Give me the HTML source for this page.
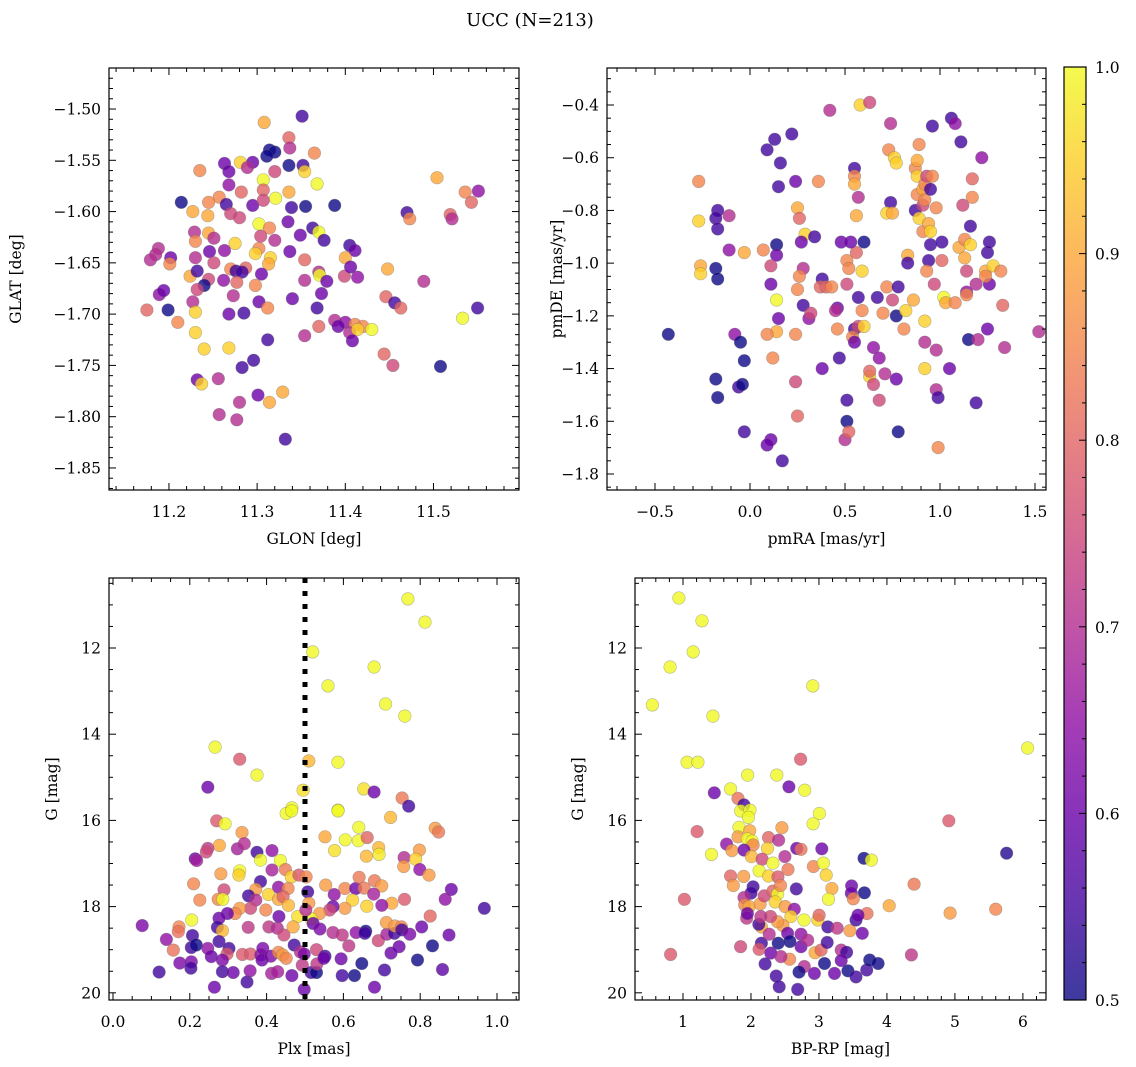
<!DOCTYPE html>
<html><head><meta charset="utf-8"><style>
body{margin:0;background:#fff}
svg{display:block}
text{font-family:"DejaVu Serif","Liberation Serif",serif;fill:#000}
</style></head><body>
<svg id="fig" width="1136" height="1067" xmlns="http://www.w3.org/2000/svg">
<defs>
<linearGradient id="plasma" x1="0" y1="1" x2="0" y2="0">
<stop offset="0" stop-color="#0d0887"/><stop offset="0.1" stop-color="#41049d"/><stop offset="0.2" stop-color="#6a00a8"/><stop offset="0.3" stop-color="#8f0da4"/><stop offset="0.4" stop-color="#b12a90"/><stop offset="0.5" stop-color="#cc4778"/><stop offset="0.6" stop-color="#e16462"/><stop offset="0.7" stop-color="#f2844b"/><stop offset="0.8" stop-color="#fca636"/><stop offset="0.9" stop-color="#fcce25"/><stop offset="1" stop-color="#f0f921"/>
</linearGradient>
</defs>
<text x="530" y="26" font-size="18" text-anchor="middle">UCC (N=213)</text>
</svg>
<script>
// Panel 1: GLON vs GLAT
const glon=[11.351,11.308,11.336,11.337,11.314,11.320,11.311,11.295,11.281,11.263,11.336,11.352,11.365,11.235,11.268,11.289,11.320,11.354,11.336,11.368,11.307,11.307,11.268,11.282,11.257,11.245,11.214,11.265,11.295,11.307,11.321,11.339,11.355,11.388,11.227,11.244,11.270,11.280,11.302,11.314,11.335,11.363,11.370,11.229,11.245,11.230,11.251,11.275,11.304,11.320,11.349,11.376,11.405,11.411,11.188,11.263,11.302,11.337,11.185,11.202,11.230,11.246,11.298,11.315,11.354,11.400,11.179,11.201,11.251,11.313,11.270,11.287,11.370,11.448,11.224,11.232,11.276,11.283,11.305,11.371,11.399,11.414,11.245,11.262,11.277,11.240,11.298,11.354,11.379,11.489,11.189,11.194,11.232,11.273,11.373,11.446,11.340,11.227,11.302,11.456,11.175,11.199,11.230,11.268,11.285,11.312,11.368,11.463,11.550,11.388,11.370,11.400,11.411,11.420,11.430,11.405,11.414,11.392,11.533,11.210,11.230,11.408,11.354,11.312,11.240,11.268,11.444,11.454,11.508,11.296,11.232,11.256,11.237,11.283,11.301,11.329,11.280,11.314,11.257,11.277,11.332,11.504,11.536,11.551,11.543,11.519,11.521,11.470,11.473,11.406];
const glat=[-1.507,-1.513,-1.528,-1.538,-1.540,-1.542,-1.546,-1.552,-1.552,-1.553,-1.555,-1.555,-1.543,-1.560,-1.561,-1.557,-1.561,-1.561,-1.581,-1.573,-1.569,-1.579,-1.574,-1.581,-1.586,-1.591,-1.591,-1.593,-1.594,-1.589,-1.587,-1.596,-1.595,-1.594,-1.600,-1.604,-1.602,-1.606,-1.612,-1.616,-1.610,-1.616,-1.620,-1.620,-1.621,-1.629,-1.626,-1.631,-1.624,-1.628,-1.623,-1.628,-1.633,-1.638,-1.636,-1.638,-1.636,-1.639,-1.642,-1.645,-1.645,-1.639,-1.641,-1.645,-1.647,-1.645,-1.647,-1.651,-1.650,-1.651,-1.656,-1.655,-1.659,-1.656,-1.663,-1.658,-1.658,-1.659,-1.661,-1.662,-1.663,-1.664,-1.666,-1.667,-1.669,-1.672,-1.672,-1.667,-1.668,-1.668,-1.681,-1.677,-1.676,-1.682,-1.680,-1.683,-1.685,-1.688,-1.688,-1.689,-1.696,-1.696,-1.698,-1.700,-1.699,-1.694,-1.694,-1.694,-1.694,-1.706,-1.712,-1.708,-1.710,-1.712,-1.715,-1.718,-1.715,-1.712,-1.704,-1.708,-1.718,-1.726,-1.721,-1.725,-1.734,-1.733,-1.739,-1.750,-1.751,-1.745,-1.764,-1.763,-1.768,-1.752,-1.779,-1.776,-1.786,-1.786,-1.798,-1.803,-1.822,-1.567,-1.581,-1.580,-1.591,-1.603,-1.607,-1.601,-1.607,-1.654];
const c1=[0.55,0.9,0.8,0.7,0.5,0.5,0.5,0.6,0.95,0.6,0.5,0.55,0.85,0.85,0.6,0.7,0.75,0.95,0.9,1.0,1.0,0.8,0.65,0.8,0.85,0.85,0.5,0.55,0.6,0.75,1.0,0.55,0.5,0.5,0.9,0.9,0.75,0.75,1.0,0.85,0.6,0.55,1.0,0.7,0.9,0.85,0.7,0.95,0.75,0.7,0.6,0.55,0.55,0.6,0.7,0.65,0.85,0.6,0.7,0.6,0.7,0.6,0.95,0.95,0.8,0.9,0.7,0.85,0.75,0.9,0.85,0.8,0.7,0.9,0.9,0.55,0.55,0.55,0.6,1.0,0.75,0.65,0.75,0.65,0.8,0.5,0.85,0.7,0.6,0.7,0.65,0.6,0.75,0.7,0.6,0.8,0.6,0.7,0.6,0.55,0.8,0.5,0.95,0.6,0.55,0.85,0.55,0.8,0.55,0.7,0.8,0.65,0.85,0.85,1.0,0.7,0.95,0.6,1.0,0.85,0.95,0.6,0.7,0.55,0.95,0.95,0.8,0.75,0.5,0.55,0.6,0.7,0.95,0.55,0.6,0.9,0.7,0.9,0.7,0.7,0.55,0.9,0.85,0.65,0.8,0.8,0.7,0.55,0.85,0.6];
// Panel 2: pmRA vs pmDE
const pmra=[-0.43,-0.17,-0.18,-0.17,-0.18,-0.17,-0.18,-0.17,-0.27,-0.26,-0.26,-0.27,-0.03,-0.03,-0.03,-0.11,-0.11,-0.08,-0.05,-0.06,-0.04,0.07,0.09,0.13,0.16,0.15,0.14,0.14,0.14,0.15,0.11,0.11,0.14,0.09,0.12,0.11,0.09,0.17,0.22,0.24,0.25,0.26,0.29,0.27,0.28,0.26,0.25,0.28,0.24,0.24,0.25,0.31,0.32,0.34,0.36,0.38,0.38,0.42,0.37,0.40,0.43,0.46,0.48,0.45,0.46,0.47,0.51,0.50,0.51,0.52,0.51,0.51,0.52,0.55,0.55,0.55,0.56,0.56,0.59,0.57,0.53,0.55,0.54,0.55,0.57,0.57,0.60,0.58,0.63,0.59,0.60,0.63,0.63,0.67,0.65,0.68,0.68,0.65,0.70,0.72,0.71,0.74,0.73,0.76,0.77,0.74,0.72,0.75,0.75,0.77,0.78,0.77,0.78,0.81,0.82,0.83,0.83,0.86,0.87,0.87,0.88,0.89,0.88,0.88,0.89,0.91,0.91,0.91,0.92,0.92,0.93,0.94,0.95,0.95,0.94,0.93,0.92,0.92,0.92,0.95,0.96,0.96,0.97,0.98,0.98,0.98,1.01,1.01,0.99,0.99,1.02,1.03,1.06,1.05,1.08,1.08,1.10,1.11,1.12,1.13,1.13,1.14,1.15,1.14,1.14,1.16,1.17,1.17,1.16,1.22,1.19,1.20,1.25,1.26,1.24,1.26,1.24,1.25,1.19,1.28,1.33,1.34,1.52,1.32];
const pmde=[-1.27,-0.80,-0.83,-0.87,-1.02,-1.06,-1.44,-1.51,-0.84,-1.01,-1.04,-0.69,-1.64,-1.37,-0.96,-0.82,-0.95,-1.27,-1.30,-1.47,-1.46,-0.95,-0.57,-0.53,-0.62,-0.71,-0.93,-0.97,-1.14,-1.21,-1.08,-1.01,-1.26,-1.27,-1.36,-1.67,-1.69,-1.75,-0.51,-0.69,-0.79,-0.83,-0.89,-0.92,-1.02,-1.05,-1.10,-1.16,-1.27,-1.45,-1.58,-1.21,-1.19,-0.90,-0.69,-1.06,-1.40,-0.42,-1.09,-1.09,-1.09,-1.17,-0.92,-1.18,-1.25,-1.36,-1.52,-1.67,-0.99,-1.02,-1.08,-1.60,-1.64,-0.64,-0.67,-0.70,-0.82,-0.96,-1.03,-0.75,-0.92,-1.25,-1.28,-1.30,-1.13,-1.24,-0.92,-0.40,-0.39,-1.18,-1.24,-1.43,-1.41,-1.13,-1.32,-1.36,-1.52,-1.46,-1.19,-1.09,-1.42,-0.47,-0.57,-0.60,-0.62,-0.77,-0.81,-0.81,-1.14,-1.20,-1.09,-1.44,-1.64,-1.25,-1.18,-0.97,-1.00,-1.14,-0.80,-0.64,-0.61,-0.55,-0.67,-0.74,-0.83,-0.78,-0.72,-0.88,-0.76,-0.70,-0.67,-0.85,-0.88,-0.93,-0.99,-1.03,-1.22,-1.30,-1.40,-0.72,-0.48,-0.67,-1.08,-1.33,-1.48,-0.79,-0.92,-0.99,-1.70,-1.51,-1.13,-1.15,-0.45,-1.40,-1.15,-0.47,-0.94,-0.54,-0.78,-0.91,-0.98,-1.03,-1.29,-1.11,-1.12,-0.86,-0.68,-0.75,-0.93,-0.60,-1.08,-1.29,-0.96,-0.92,-1.03,-1.08,-1.05,-1.25,-1.53,-1.01,-1.16,-1.32,-1.26,-1.03];
const c2=[0.5,0.55,0.55,0.55,0.5,0.5,0.5,0.5,0.95,0.9,0.95,0.85,0.55,0.5,0.9,0.7,0.65,0.65,0.5,0.55,0.5,0.85,0.55,0.55,0.55,0.55,0.5,0.6,1.0,0.6,0.6,0.75,0.9,0.85,0.85,0.6,0.6,0.55,0.55,0.6,0.9,0.8,0.95,0.6,0.7,0.85,0.85,0.55,0.85,0.75,0.8,0.65,0.75,0.55,0.85,0.55,0.6,0.7,0.8,0.8,0.85,0.6,0.6,0.7,0.85,0.55,0.55,0.7,0.85,0.85,0.75,0.5,0.8,0.55,0.85,0.9,0.9,0.8,0.95,0.7,0.6,0.55,0.85,0.6,0.55,0.75,0.5,0.95,0.75,0.85,0.95,0.95,0.8,0.55,0.65,0.65,0.75,0.75,0.85,0.85,0.7,0.7,0.85,0.95,0.95,0.55,0.95,0.9,0.75,0.5,0.55,0.6,0.5,0.85,0.95,0.9,0.55,0.9,0.55,0.85,0.9,0.85,0.95,0.85,0.95,0.75,0.9,0.85,0.85,0.85,0.75,0.9,0.95,0.55,0.55,0.85,0.95,0.7,0.95,0.55,0.55,0.85,0.75,0.7,0.7,0.85,0.55,0.8,0.85,0.55,1.0,0.9,0.55,0.6,0.85,0.65,0.9,0.55,0.75,0.85,0.9,0.75,0.5,0.65,0.85,0.55,0.8,0.85,0.95,0.65,0.7,0.7,0.55,0.55,0.9,0.6,0.85,0.6,0.55,0.95,0.8,0.7,0.7,0.85];
// Panel 3: Plx vs G
const plx=[0.768,0.8125,0.52,0.68,0.56,0.71,0.76,0.266,0.33,0.51,0.586,0.375,0.247,0.495,0.653,0.68,0.753,0.77,0.466,0.586,0.451,0.465,0.586,0.723,0.270,0.292,0.336,0.552,0.605,0.639,0.640,0.662,0.692,0.693,0.577,0.660,0.798,0.839,0.848,0.277,0.324,0.342,0.247,0.243,0.214,0.218,0.375,0.414,0.384,0.436,0.330,0.328,0.281,0.414,0.449,0.464,0.484,0.503,0.210,0.384,0.431,0.456,0.372,0.289,0.226,0.274,0.286,0.353,0.372,0.405,0.431,0.443,0.457,0.507,0.510,0.554,0.576,0.604,0.632,0.641,0.654,0.681,0.700,0.679,0.758,0.757,0.788,0.799,0.823,0.881,0.865,0.967,0.759,0.726,0.700,0.661,0.624,0.604,0.573,0.564,0.538,0.516,0.481,0.521,0.502,0.432,0.398,0.358,0.330,0.318,0.298,0.276,0.272,0.285,0.205,0.172,0.170,0.076,0.139,0.157,0.207,0.204,0.217,0.174,0.204,0.203,0.120,0.247,0.256,0.276,0.302,0.297,0.285,0.285,0.313,0.349,0.264,0.337,0.358,0.357,0.385,0.390,0.388,0.411,0.431,0.442,0.451,0.413,0.429,0.466,0.472,0.488,0.498,0.493,0.498,0.516,0.530,0.531,0.530,0.552,0.549,0.594,0.597,0.629,0.648,0.614,0.633,0.658,0.656,0.573,0.597,0.539,0.406,0.428,0.445,0.469,0.352,0.691,0.713,0.733,0.712,0.734,0.751,0.752,0.773,0.804,0.826,0.875,0.745,0.724,0.707,0.681,0.793,0.832,0.858];
const gmag3=[10.86,11.40,12.09,12.44,12.88,13.30,13.58,14.30,14.58,14.62,14.65,14.95,15.23,15.30,15.27,15.34,15.48,15.67,15.71,15.76,15.84,15.78,15.78,15.93,16.01,16.08,16.28,16.38,16.45,16.47,16.16,16.40,16.63,16.79,16.70,16.83,16.69,16.18,16.27,16.58,16.66,16.54,16.65,16.73,16.89,16.93,16.74,16.70,16.92,16.93,17.17,17.27,17.24,17.15,17.14,17.31,17.27,17.31,17.47,17.42,17.55,17.58,17.60,17.61,17.85,17.83,17.83,17.75,17.85,17.72,17.83,17.77,17.97,17.66,17.92,17.50,17.72,17.58,17.58,17.32,17.57,17.40,17.52,17.71,16.86,17.07,16.90,17.14,17.27,17.60,17.83,18.04,17.83,17.92,17.97,17.99,17.85,18.04,18.00,18.08,18.16,18.28,18.23,18.39,18.08,18.23,18.08,18.04,18.04,18.16,18.16,18.27,18.48,18.56,18.31,18.47,18.58,18.44,18.76,19.01,18.67,18.95,18.89,19.31,19.28,19.43,19.52,18.97,19.16,18.81,18.97,19.10,19.24,19.51,19.53,19.75,19.87,19.11,19.10,19.49,19.12,18.97,19.24,19.15,19.06,19.12,19.20,19.55,19.51,19.60,18.89,19.05,19.10,19.36,19.92,19.53,19.53,19.33,19.00,19.15,19.20,19.21,19.60,19.60,19.32,18.91,18.60,18.57,18.62,18.60,18.66,18.52,18.47,18.50,18.66,18.47,18.48,18.79,18.64,18.62,18.37,18.45,18.47,18.54,18.64,18.47,18.22,18.66,18.93,19.08,19.47,19.87,19.24,18.91,19.46];
const c3=[1,1,1,1,1,1,1,1,0.78,0.92,1,1,0.6,0.97,0.97,0.6,0.83,0.55,1,1,1,1,1,0.92,0.78,1,0.88,0.9,1,1,1,0.8,0.92,0.98,0.97,0.92,0.88,0.88,0.83,0.9,0.68,0.7,0.72,0.75,0.6,0.68,0.55,0.65,1,1,1,0.95,0.88,0.68,0.83,0.95,0.78,0.85,0.85,0.55,0.65,0.85,0.88,0.75,0.85,0.85,1,0.55,0.7,0.95,0.9,0.8,0.92,0.55,0.88,0.88,0.65,0.85,0.6,0.83,0.83,0.83,0.88,0.68,0.7,0.88,0.95,0.65,0.88,0.6,0.65,0.55,0.78,0.9,0.65,0.95,0.95,0.88,0.6,0.75,0.88,1,0.97,0.6,0.7,0.6,0.85,0.75,0.88,0.85,0.6,0.6,0.55,0.92,1,0.85,0.82,0.62,0.65,0.82,0.55,0.55,0.5,0.62,0.62,0.55,0.55,0.65,0.6,0.55,0.55,0.78,0.62,0.55,0.6,0.55,0.6,0.78,0.78,0.65,0.65,0.62,0.6,0.62,0.85,0.88,0.85,0.68,0.68,0.6,0.55,0.7,0.62,0.72,0.6,0.55,0.5,0.72,0.75,0.55,0.6,0.6,0.55,0.5,0.5,0.72,0.65,0.5,0.55,0.7,0.72,0.62,0.72,0.7,0.75,0.9,0.72,0.75,0.68,0.55,0.88,0.88,0.85,0.55,0.62,0.6,0.8,0.6,0.6,0.6,0.55,0.6,0.5,0.5,0.58];
// Panel 4: BP-RP vs G
const bprp=[0.94,0.81,1.15,1.28,0.55,2.91,1.44,1.06,1.22,2.73,1.95,6.07,1.46,4.91,5.76,4.40,4.93,5.60,4.36,2.38,2.558,2.790,1.700,1.809,1.898,1.848,1.986,1.962,1.207,1.824,1.982,1.809,1.947,2.016,2.031,2.258,2.406,2.455,3.007,2.914,1.641,1.720,1.898,1.419,2.006,2.243,2.499,2.164,2.672,2.736,3.042,3.663,3.772,2.322,2.120,2.258,2.396,2.544,2.918,3.066,3.106,3.190,3.140,3.481,3.476,3.668,3.505,3.707,4.033,1.700,1.740,1.893,2.031,2.001,1.898,1.908,1.972,2.134,2.194,2.322,2.391,2.435,2.667,2.356,2.504,2.637,2.588,2.780,2.470,2.391,2.154,2.115,2.287,2.144,1.937,1.947,2.983,3.002,3.130,3.268,3.456,3.638,3.545,3.574,1.020,0.818,1.848,2.154,2.120,2.292,2.208,2.371,2.415,2.687,2.568,2.785,2.706,2.933,2.943,3.032,3.121,3.328,3.407,3.081,3.229,3.426,3.545,3.702,3.747,3.870,2.539,2.736,2.401,2.573,2.736,2.835,2.268,2.440,3.328];
const gmag4=[10.84,12.44,12.09,11.37,13.32,12.88,13.58,14.65,14.65,14.58,14.95,14.32,15.36,16.01,16.76,17.48,18.15,18.06,19.12,14.95,15.22,15.30,15.27,15.49,15.64,15.78,15.76,15.93,16.26,16.16,16.24,16.38,16.43,16.48,16.57,16.40,16.46,16.17,15.84,16.08,16.55,16.70,16.69,16.79,16.84,16.65,16.84,16.90,16.65,16.67,16.66,16.88,16.92,16.99,17.17,17.29,17.31,17.14,17.07,16.99,17.27,17.58,17.83,17.52,17.69,17.68,17.82,18.16,17.98,17.29,17.51,17.30,17.54,17.69,17.79,17.96,18.00,17.94,17.75,17.64,17.71,17.51,17.59,17.89,18.00,18.06,18.23,18.31,18.44,18.35,18.47,18.41,18.23,18.23,18.27,18.16,18.31,18.20,18.47,18.50,18.56,18.62,18.31,18.20,17.83,19.11,18.93,18.85,18.99,19.08,19.33,19.61,19.86,19.92,19.22,19.39,19.52,19.55,19.07,19.01,18.83,19.01,19.06,19.32,19.55,19.49,19.63,19.47,19.24,19.32,18.62,18.64,18.85,18.81,18.93,18.78,18.64,19.16,19.25];
const c4=[1,1,1,1,1,1,1,1,1,0.78,1,1,0.6,0.78,0.52,0.83,0.88,0.85,0.72,1,0.6,1,1,0.82,0.55,1,1,1,0.78,1,0.9,0.88,1,1,0.85,0.8,0.7,0.88,1,1,0.65,0.88,0.6,1,0.92,0.95,0.7,0.75,0.6,0.82,0.6,0.5,1,1,1,0.95,0.78,0.83,0.85,1,0.95,0.9,1,0.6,0.6,0.5,0.85,0.82,0.9,0.8,0.88,0.88,0.55,0.55,0.7,0.85,0.9,0.88,0.75,0.8,1,0.85,0.55,0.95,0.88,0.65,0.95,1,0.88,0.88,0.9,0.55,0.75,0.72,0.72,0.6,0.95,0.8,0.55,0.72,0.88,0.6,0.55,0.6,0.78,0.78,0.75,0.55,0.78,0.6,0.55,0.55,0.55,0.55,0.85,0.7,0.5,0.6,0.9,0.8,0.55,0.7,0.55,0.5,0.6,0.5,0.55,0.55,0.5,0.5,0.6,0.65,0.5,0.5,0.6,0.7,0.7,0.7,0.6];
const cbTicks=[0.5,0.6,0.7,0.8,0.9,1.0];

const NS='http://www.w3.org/2000/svg';
const svg=document.getElementById('fig');
function el(tag,attrs,parent){const e=document.createElementNS(NS,tag);for(const k in attrs)e.setAttribute(k,attrs[k]);(parent||svg).appendChild(e);return e;}
const stops=[[13,8,135],[65,4,157],[106,0,168],[143,13,164],[177,42,144],[204,71,120],[225,100,98],[242,132,75],[252,166,54],[252,206,37],[240,249,33]];
function plasma(v){let t=Math.max(0,Math.min(1,(v-0.5)/0.5))*10;let i=Math.min(9,Math.floor(t));let f=t-i;const a=stops[i],b=stops[i+1];return 'rgb('+a.map((x,k)=>Math.round(x+(b[k]-x)*f)).join(',')+')';}

function panel(o,xs,ys,cs){
  const g=el('g',{});
  
  
  const sx=v=>o.x0+(v-o.xmin)/(o.xmax-o.xmin)*(o.x1-o.x0);
  const sy=o.inv?(v=>o.y0+(v-o.ymin)/(o.ymax-o.ymin)*(o.y1-o.y0)):(v=>o.y1-(v-o.ymin)/(o.ymax-o.ymin)*(o.y1-o.y0));
  const pts=el('g',{},g);
  
  
  for(let i=0;i<xs.length;i++){
    const c=el('circle',{cx:sx(xs[i]).toFixed(1),cy:sy(ys[i]).toFixed(1),r:6.3,fill:plasma(cs[i]),'fill-opacity':0.8,stroke:'#666','stroke-opacity':0.45,'stroke-width':0.6},pts);
    
    
  }
  if(o.vline!==undefined){
    const l=el('line',{x1:sx(o.vline),x2:sx(o.vline),y1:o.y0,y2:o.y1,stroke:'#000','stroke-width':5,'stroke-dasharray':'5 8'},g);
    
    
  }
  const fr=el('rect',{x:o.x0,y:o.y0,width:o.x1-o.x0,height:o.y1-o.y0,fill:'none',stroke:'#000','stroke-width':1.2},g);
  
  
  const tk=el('g',{stroke:'#000','stroke-width':1},g);
  const E=1e-6;
  for(let k=Math.ceil(o.xmin/o.xminor-E);k*o.xminor<=o.xmax+E;k++){
    const v=k*o.xminor;const x=sx(v);const major=Math.abs(v/o.xmajor-Math.round(v/o.xmajor))<1e-4;const L=major?7:4;
    el('line',{x1:x,x2:x,y1:o.y1,y2:o.y1-L},tk);el('line',{x1:x,x2:x,y1:o.y0,y2:o.y0+L},tk);
    if(major){const t=el('text',{x:x,y:o.y1+27,'font-size':15.5,'text-anchor':'middle'},g);t.textContent=o.xfmt(v);
      
      }
  }
  for(let k=Math.ceil(o.ymin/o.yminor-E);k*o.yminor<=o.ymax+E;k++){
    const v=k*o.yminor;const y=sy(v);const major=Math.abs(v/o.ymajor-Math.round(v/o.ymajor))<1e-4;const L=major?7:4;
    el('line',{x1:o.x0,x2:o.x0+L,y1:y,y2:y},tk);el('line',{x1:o.x1,x2:o.x1-L,y1:y,y2:y},tk);
    if(major){const t=el('text',{x:o.x0-8,y:y+5.5,'font-size':15.5,'text-anchor':'end'},g);t.textContent=o.yfmt(v);
      
      }
  }
  const xl=el('text',{x:(o.x0+o.x1)/2,y:o.y1+54,'font-size':15.5,'text-anchor':'middle'},g);xl.textContent=o.xlabel;
  
  
  const yl=el('text',{x:0,y:0,'font-size':15.5,'text-anchor':'middle',transform:'translate('+o.ylx+','+((o.y0+o.y1)/2)+') rotate(-90)'},g);yl.textContent=o.ylabel;
  
  
}
const neg=s=>s.replace('-','\u2212');
panel({name:'glon-glat-panel',x0:109,x1:519,y0:68,y1:490,xmin:11.132,xmax:11.597,ymin:-1.8715,ymax:-1.460,xmajor:0.1,xminor:0.02,ymajor:0.05,yminor:0.01,xfmt:v=>v.toFixed(1),yfmt:v=>neg(v.toFixed(2)),xlabel:'GLON [deg]',ylabel:'GLAT [deg]',ylx:21},glon,glat,c1);
panel({name:'pm-panel',x0:607,x1:1046,y0:68,y1:490,xmin:-0.7526,xmax:1.5579,ymin:-1.8607,ymax:-0.2596,xmajor:0.5,xminor:0.1,ymajor:0.2,yminor:0.05,xfmt:v=>neg(v.toFixed(1)),yfmt:v=>neg(v.toFixed(1)),xlabel:'pmRA [mas/yr]',ylabel:'pmDE [mas/yr]',ylx:562},pmra,pmde,c2);
panel({name:'plx-g-panel',x0:109,x1:519,y0:578,y1:1000,xmin:-0.0104,xmax:1.0573,ymin:10.376,ymax:20.167,inv:true,xmajor:0.2,xminor:0.05,ymajor:2,yminor:0.5,xfmt:v=>v.toFixed(1),yfmt:v=>v.toFixed(0),xlabel:'Plx [mas]',ylabel:'G [mag]',ylx:57,vline:0.5},plx,gmag3,c3);
panel({name:'cmd-panel',x0:635,x1:1046,y0:578,y1:1000,xmin:0.294,xmax:6.34,ymin:10.376,ymax:20.167,inv:true,xmajor:1,xminor:0.2,ymajor:2,yminor:0.5,xfmt:v=>v.toFixed(0),yfmt:v=>v.toFixed(0),xlabel:'BP-RP [mag]',ylabel:'G [mag]',ylx:583},bprp,gmag4,c4);

const cb=el('g',{});


const cbx0=1064,cbx1=1086,cby0=67,cby1=1000;
el('rect',{x:cbx0,y:cby0,width:cbx1-cbx0,height:cby1-cby0,fill:'url(#plasma)','fill-opacity':0.8,stroke:'#000','stroke-width':1.2},cb);
const cy=v=>cby1-(v-0.5)/0.5*(cby1-cby0);
for(let k=25;k<=50;k++){const v=k*0.02;const y=cy(v);const major=k%5===0;
  el('line',{x1:cbx1,x2:cbx1-(major?7:4),y1:y,y2:y,stroke:'#000','stroke-width':1},cb);}
cbTicks.forEach(v=>{const t=el('text',{x:1095,y:cy(v)+6,'font-size':15.5},cb);t.textContent=v.toFixed(1);
  
  });
</script>
</body></html>
